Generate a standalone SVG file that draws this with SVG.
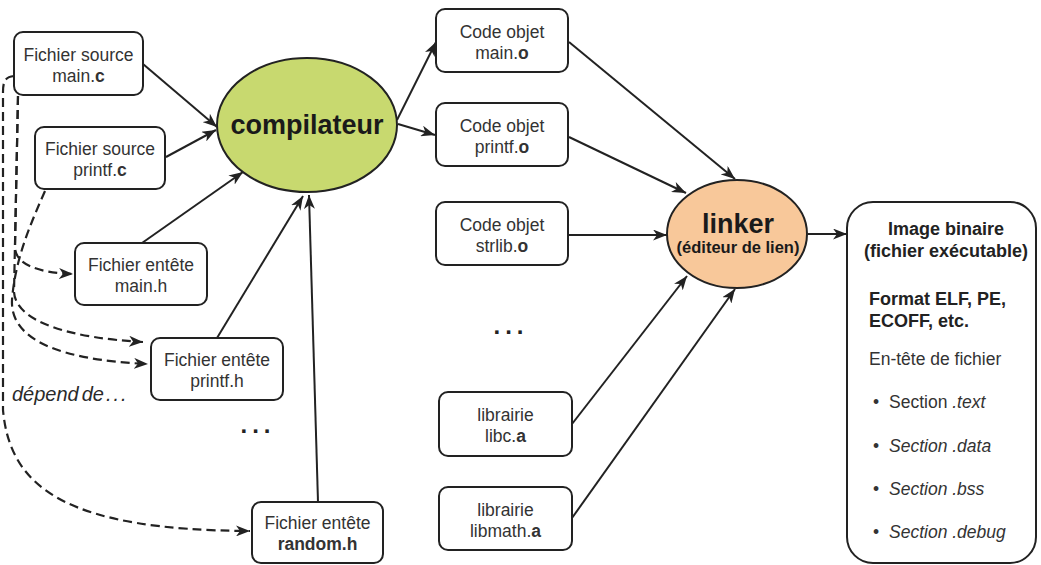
<svg xmlns="http://www.w3.org/2000/svg" width="1041" height="565" viewBox="0 0 1041 565">
  <style>
    .box { fill: #ffffff; stroke: #222; stroke-width: 2; }
    .lbl { font-family: "Liberation Sans", Arial, sans-serif; font-size: 17.5px; fill: #333; text-anchor: middle; }
    .b { font-weight: bold; }
    .it { font-style: italic; }
    .edge { fill: none; stroke: #222; stroke-width: 2; marker-end: url(#arrow); }
    .dep { fill: none; stroke: #222; stroke-width: 2.2; stroke-dasharray: 9 5; marker-end: url(#arrow); }
    .info { font-family: "Liberation Sans", Arial, sans-serif; font-size: 17.5px; fill: #333; }
    .head { font-size: 18px; fill: #222; font-weight: bold; }
    .dots { font-family: "Liberation Sans", Arial, sans-serif; font-size: 24px; font-weight: bold; fill: #222; letter-spacing: 5px; text-anchor: middle; }
  </style>
  <defs>
    <marker id="arrow" markerUnits="userSpaceOnUse" viewBox="0 0 14 11" refX="14" refY="5.5" markerWidth="14" markerHeight="11" orient="auto">
      <path d="M0,0 L14,5.5 L0,11 L4,5.5 Z" fill="#222"/>
    </marker>
  </defs>
  <rect width="1041" height="565" fill="#ffffff"/>

  <!-- connectors -->
  <g id="connectors">
    <!-- compile inputs -->
    <path class="edge" d="M143,64 L217,127"/>
    <path class="edge" d="M166,157 L216,130"/>
    <path class="edge" d="M142,243 L243,172"/>
    <path class="edge" d="M217,338 L303,196"/>
    <path class="edge" d="M318,502 L309,195"/>
    <!-- compiler outputs -->
    <path class="edge" d="M397,120 L436,42"/>
    <path class="edge" d="M398,124 L435,135"/>
    <!-- linker inputs -->
    <path class="edge" d="M569,42 L735,179"/>
    <path class="edge" d="M569,137 L686,193"/>
    <path class="edge" d="M568,235 L667,235"/>
    <path class="edge" d="M572,424 L687,276"/>
    <path class="edge" d="M572,518 L735,289"/>
    <!-- linker output -->
    <path class="edge" d="M808,234 L847,234"/>
    <!-- header dependencies -->
    <path class="dep" d="M14,76 C6,77 3,80 3,92 L3,410 C10,490 70,530 250,531"/>
    <path class="dep" d="M18,96 L15,248 C16,265 40,273 73,274"/>
    <path class="dep" d="M18,96 L14,292 C16,322 70,338 143,342"/>
    <path class="dep" d="M45,191 C30,225 15,260 12,300 C10,340 60,360 148,364"/>
  </g>

  <!-- source files -->
  <g id="main_c">
    <rect class="box" x="14" y="32" width="129" height="63" rx="9"/>
    <text class="lbl" x="78.5" y="61">Fichier source</text>
    <text class="lbl" x="78.5" y="82">main.<tspan class="b">c</tspan></text>
  </g>
  <g id="printf_c">
    <rect class="box" x="35" y="127" width="130" height="62" rx="9"/>
    <text class="lbl" x="100" y="155">Fichier source</text>
    <text class="lbl" x="100" y="176">printf.<tspan class="b">c</tspan></text>
  </g>
  <g id="main_h">
    <rect class="box" x="75" y="243" width="132" height="62" rx="9"/>
    <text class="lbl" x="141" y="271">Fichier entête</text>
    <text class="lbl" x="141" y="292">main.h</text>
  </g>
  <g id="printf_h">
    <rect class="box" x="151" y="338" width="132" height="62" rx="9"/>
    <text class="lbl" x="217" y="366">Fichier entête</text>
    <text class="lbl" x="217" y="387">printf.h</text>
  </g>
  <g id="random_h">
    <rect class="box" x="252" y="502" width="131" height="61" rx="9"/>
    <text class="lbl" x="317.5" y="529">Fichier entête</text>
    <text class="lbl b" x="317.5" y="550">random.h</text>
  </g>
  <g id="dep_label">
    <text class="info it" x="12" y="401" style="font-size:20px;fill:#2a2a2a">dépend<tspan dx="3">de</tspan><tspan dx="2" letter-spacing="2">...</tspan></text>
  </g>
  <g id="more_headers">
    <text class="dots" x="258" y="433">...</text>
  </g>

  <!-- compiler -->
  <g id="compilateur">
    <ellipse cx="307" cy="125" rx="90" ry="67" fill="#c8d96f" stroke="#222" stroke-width="2"/>
    <text class="lbl b" x="307" y="134" style="font-size:27px;fill:#1a1a1a">compilateur</text>
  </g>

  <!-- object files -->
  <g id="main_o">
    <rect class="box" x="436" y="9" width="132" height="63" rx="9"/>
    <text class="lbl" x="502" y="38">Code objet</text>
    <text class="lbl" x="502" y="59">main.<tspan class="b">o</tspan></text>
  </g>
  <g id="printf_o">
    <rect class="box" x="436" y="103" width="132" height="63" rx="9"/>
    <text class="lbl" x="502" y="132">Code objet</text>
    <text class="lbl" x="502" y="153">printf.<tspan class="b">o</tspan></text>
  </g>
  <g id="strlib_o">
    <rect class="box" x="436" y="202" width="132" height="63" rx="9"/>
    <text class="lbl" x="502" y="231">Code objet</text>
    <text class="lbl" x="502" y="252">strlib.<tspan class="b">o</tspan></text>
  </g>
  <g id="more_objects">
    <text class="dots" x="511" y="334">...</text>
  </g>

  <!-- libraries -->
  <g id="libc_a">
    <rect class="box" x="439" y="392" width="133" height="64" rx="9"/>
    <text class="lbl" x="505.5" y="421">librairie</text>
    <text class="lbl" x="505.5" y="442">libc.<tspan class="b">a</tspan></text>
  </g>
  <g id="libmath_a">
    <rect class="box" x="439" y="487" width="133" height="63" rx="9"/>
    <text class="lbl" x="505.5" y="516">librairie</text>
    <text class="lbl" x="505.5" y="537">libmath.<tspan class="b">a</tspan></text>
  </g>

  <!-- linker -->
  <g id="linker">
    <ellipse cx="737" cy="234" rx="70" ry="54" fill="#f8c89a" stroke="#222" stroke-width="2"/>
    <text class="lbl b" x="738" y="233" style="font-size:27px;fill:#1a1a1a">linker</text>
    <text class="lbl b" x="738" y="253" style="font-size:16.5px;fill:#1a1a1a">(éditeur de lien)</text>
  </g>

  <!-- executable image -->
  <g id="image_binaire">
    <rect class="box" x="847" y="202" width="189" height="361" rx="26"/>
    <text class="info head" x="946" y="235" text-anchor="middle">Image binaire</text>
    <text class="info head" x="946" y="257" text-anchor="middle">(fichier exécutable)</text>
    <text class="info head" x="869" y="305">Format ELF, PE,</text>
    <text class="info head" x="869" y="327">ECOFF, etc.</text>
    <text class="info" x="869" y="365">En-tête de fichier</text>
    <text class="info" x="873" y="408">•</text>
    <text class="info" x="889" y="408">Section <tspan class="it">.text</tspan></text>
    <text class="info" x="873" y="452">•</text>
    <text class="info it" x="889" y="452">Section .data</text>
    <text class="info" x="873" y="495">•</text>
    <text class="info it" x="889" y="495">Section .bss</text>
    <text class="info" x="873" y="538">•</text>
    <text class="info it" x="889" y="538">Section .debug</text>
  </g>
</svg>
